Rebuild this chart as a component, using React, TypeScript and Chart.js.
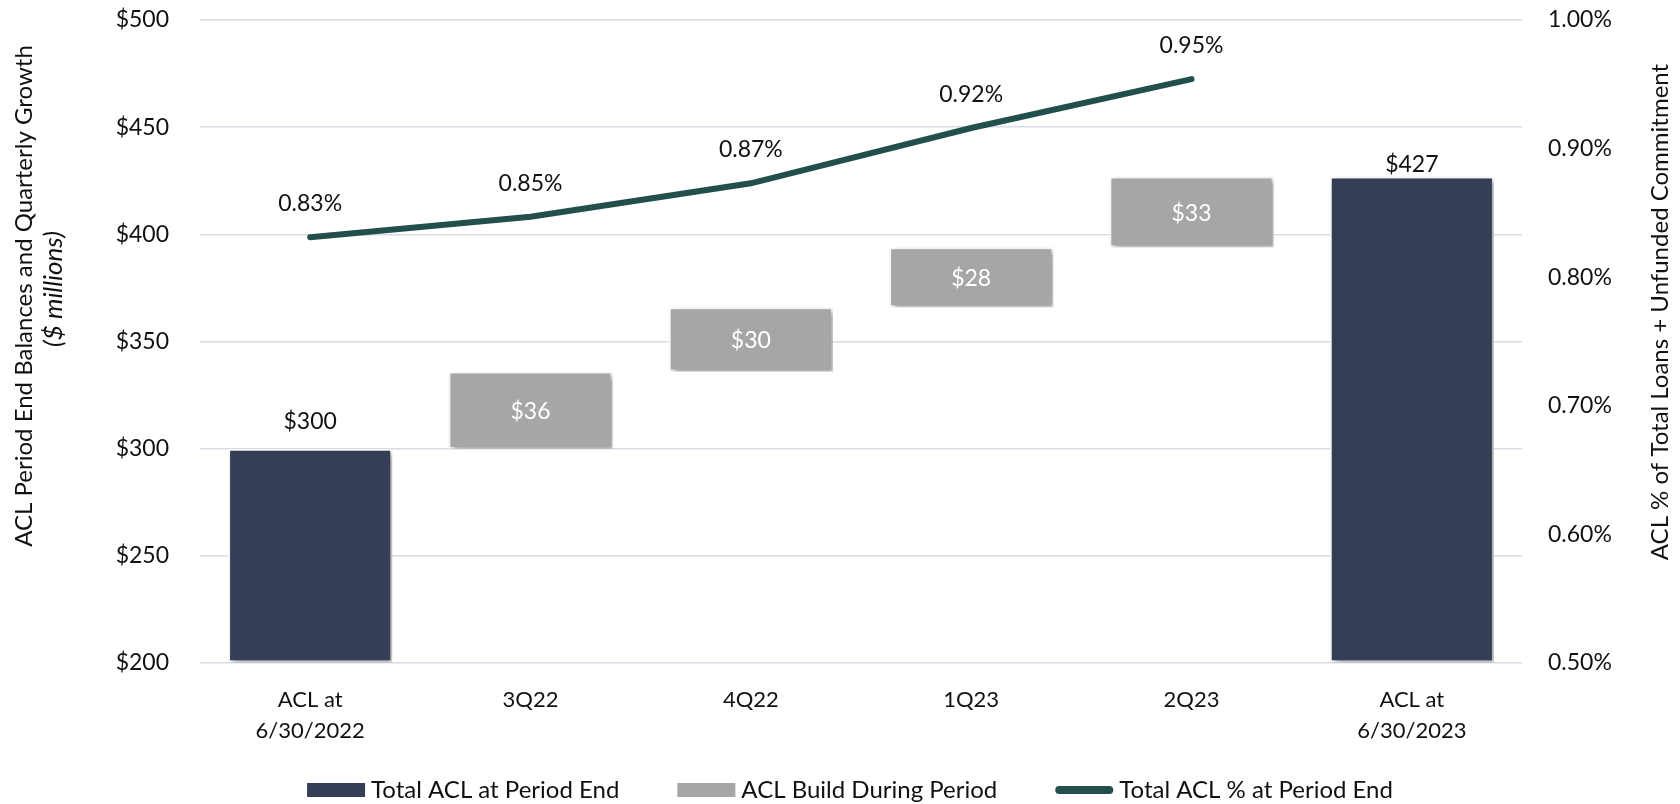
import React, { useEffect, useRef } from "react";
import { Chart, registerables } from "chart.js";

Chart.register(...registerables);

// ---- data ----
const categories: (string | string[])[] = [
  ["ACL at", "6/30/2022"],
  "3Q22",
  "4Q22",
  "1Q23",
  "2Q23",
  ["ACL at", "6/30/2023"],
];
const startBalance = 300;
const endBalance = 427;
const quarterlyBuild = [36, 30, 28, 33];
const aclPercent = [0.831, 0.847, 0.873, 0.916, 0.954];

const seriesNames = ["Total ACL at Period End", "ACL Build During Period", "Total ACL % at Period End"];
const leftAxisTitle = "ACL Period End Balances and Quarterly Growth";
const leftAxisSubtitle = "($ millions)";
const rightAxisTitle = "ACL % of Total Loans + Unfunded Commitment";

// ---- styles ----
const NAVY = "#343F56";
const GREY = "#A6A6A6";
const TEAL = "#224F4B";
const GRID = "#D9DCE5";
const TEXT = "#111111";
const FONT = "Lato, 'Open Sans', sans-serif";

function buildData() {
  const totals = [startBalance, null, null, null, null, endBalance];
  const builds: ([number, number] | null)[] = [null];
  let running = startBalance;
  quarterlyBuild.forEach((v) => {
    builds.push([running, running + v]);
    running += v;
  });
  builds.push(null);
  const line = [...aclPercent, null];
  return { totals, builds, line };
}

const totalLabelGap = [20, 4];

const decorPlugin = {
  id: "decor",
  beforeDatasetDraw(chart: any, args: any) {
    const ctx = chart.ctx;
    if (args.meta.type === "bar") {
      ctx.save();
      ctx.shadowColor = "rgba(0,0,0,0.38)";
      ctx.shadowBlur = 6;
      ctx.shadowOffsetX = 3;
      ctx.shadowOffsetY = 3;
    }
  },
  afterDatasetDraw(chart: any, args: any) {
    if (args.meta.type === "bar") chart.ctx.restore();
  },
  afterDatasetsDraw(chart: any) {
    const ctx = chart.ctx;
    ctx.save();
    ctx.textAlign = "center";
    ctx.textBaseline = "alphabetic";
    ctx.font = `23px ${FONT}`;
    const m0 = chart.getDatasetMeta(0);
    let k = 0;
    chart.data.datasets[0].data.forEach((v: any, i: number) => {
      if (v == null) return;
      const el = m0.data[i];
      ctx.fillStyle = TEXT;
      ctx.fillText("$" + v, el.x, el.y - totalLabelGap[k]);
      k++;
    });
    const m1 = chart.getDatasetMeta(1);
    chart.data.datasets[1].data.forEach((v: any, i: number) => {
      if (v == null) return;
      const el = m1.data[i];
      ctx.fillStyle = "#FFFFFF";
      ctx.fillText("$" + (v[1] - v[0]), el.x, (el.y + el.base) / 2 + 9);
    });
    const m2 = chart.getDatasetMeta(2);
    chart.data.datasets[2].data.forEach((v: any, i: number) => {
      if (v == null) return;
      const el = m2.data[i];
      ctx.fillStyle = TEXT;
      ctx.fillText(v.toFixed(2) + "%", el.x, el.y - 26);
    });
    ctx.restore();
  },
  afterDraw(chart: any) {
    const ctx = chart.ctx;
    ctx.save();
    ctx.fillStyle = TEXT;
    ctx.textAlign = "center";
    ctx.textBaseline = "middle";
    ctx.save();
    ctx.translate(24, 296);
    ctx.rotate(-Math.PI / 2);
    ctx.font = `24px ${FONT}`;
    ctx.fillText(leftAxisTitle, 0, 0);
    ctx.restore();
    ctx.save();
    ctx.translate(54, 289);
    ctx.rotate(-Math.PI / 2);
    ctx.font = `italic 26px ${FONT}`;
    ctx.fillText(leftAxisSubtitle, 0, 0);
    ctx.restore();
    ctx.save();
    ctx.translate(1660, 312);
    ctx.rotate(-Math.PI / 2);
    ctx.font = `24px ${FONT}`;
    ctx.fillText(rightAxisTitle, 0, 0);
    ctx.restore();

    // legend
    const ds = chart.data.datasets;
    ctx.font = `24px ${FONT}`;
    const boxW = 58;
    const gap = 6;
    const spacing = 58;
    const widths = ds.map((d: any) => boxW + gap + ctx.measureText(d.label).width);
    const total = widths.reduce((a: number, b: number) => a + b, 0) + spacing * (ds.length - 1);
    let x = 850 - total / 2;
    const y = 790;
    ds.forEach((d: any, i: number) => {
      if (d.type === "line") {
        ctx.strokeStyle = d.borderColor;
        ctx.lineWidth = 8;
        ctx.lineCap = "round";
        ctx.beginPath();
        ctx.moveTo(x + 4, y);
        ctx.lineTo(x + boxW - 4, y);
        ctx.stroke();
      } else {
        ctx.fillStyle = d.backgroundColor;
        ctx.fillRect(x, y - 7, boxW, 14);
      }
      ctx.fillStyle = TEXT;
      ctx.textAlign = "left";
      ctx.textBaseline = "middle";
      ctx.fillText(d.label, x + boxW + gap, y);
      x += widths[i] + spacing;
    });
    ctx.restore();
  },
};

const noVerticalPadding = (s: any) => {
  s.paddingTop = 0;
  s.paddingBottom = 0;
};

export default function App() {
  const ref = useRef<HTMLCanvasElement | null>(null);
  useEffect(() => {
    if (!ref.current) return;
    const { totals, builds, line } = buildData();
    const chart = new Chart(ref.current, {
      data: {
        labels: categories as any,
        datasets: [
          {
            type: "bar",
            label: seriesNames[0],
            data: totals as any,
            backgroundColor: NAVY,
            borderColor: "#FFFFFF",
            borderWidth: 2,
            borderSkipped: false,
            grouped: false,
            categoryPercentage: 1,
            barPercentage: 0.745,
            base: 200,
            yAxisID: "y",
            order: 2,
          },
          {
            type: "bar",
            label: seriesNames[1],
            data: builds as any,
            backgroundColor: GREY,
            borderColor: "#FFFFFF",
            borderWidth: 2,
            borderSkipped: false,
            grouped: false,
            categoryPercentage: 1,
            barPercentage: 0.745,
            yAxisID: "y",
            order: 1,
          },
          {
            type: "line",
            label: seriesNames[2],
            data: line as any,
            borderColor: TEAL,
            backgroundColor: TEAL,
            borderWidth: 6,
            borderCapStyle: "round",
            pointRadius: 0,
            tension: 0,
            yAxisID: "y1",
            order: 0,
          },
        ],
      },
      options: {
        animation: false,
        responsive: true,
        maintainAspectRatio: false,
        layout: { padding: { top: 20, bottom: 0, left: 0, right: 0 } },
        plugins: {
          legend: { display: false },
          tooltip: { enabled: false },
        },
        scales: {
          x: {
            grid: { display: false, drawTicks: false },
            border: { display: false },
            ticks: {
              color: TEXT,
              font: { family: FONT, size: 22, lineHeight: 1.4 },
              padding: 22,
              maxRotation: 0,
            },
            afterFit: (s: any) => {
              s.height = 141;
            },
          },
          y: {
            position: "left",
            min: 200,
            max: 500,
            ticks: {
              stepSize: 50,
              color: TEXT,
              font: { family: FONT, size: 23 },
              padding: 31,
              callback: (v: any) => "$" + v,
            },
            grid: { color: GRID, lineWidth: 1.5, drawTicks: false },
            border: { display: false },
            afterFit: (s: any) => {
              s.width = 200;
              noVerticalPadding(s);
            },
          },
          y1: {
            position: "right",
            min: 0.5,
            max: 1.0,
            ticks: {
              stepSize: 0.1,
              color: TEXT,
              font: { family: FONT, size: 23 },
              padding: 26,
              callback: (v: any) => Number(v).toFixed(2) + "%",
            },
            grid: { display: false, drawTicks: false },
            border: { display: false },
            afterFit: (s: any) => {
              s.width = 158;
              noVerticalPadding(s);
            },
          },
        },
      },
      plugins: [decorPlugin],
    } as any);
    return () => chart.destroy();
  }, []);

  return (
    <div style={{ position: "fixed", left: 0, top: 0, width: 1680, height: 804, background: "#fff" }}>
      <canvas ref={ref} />
    </div>
  );
}
